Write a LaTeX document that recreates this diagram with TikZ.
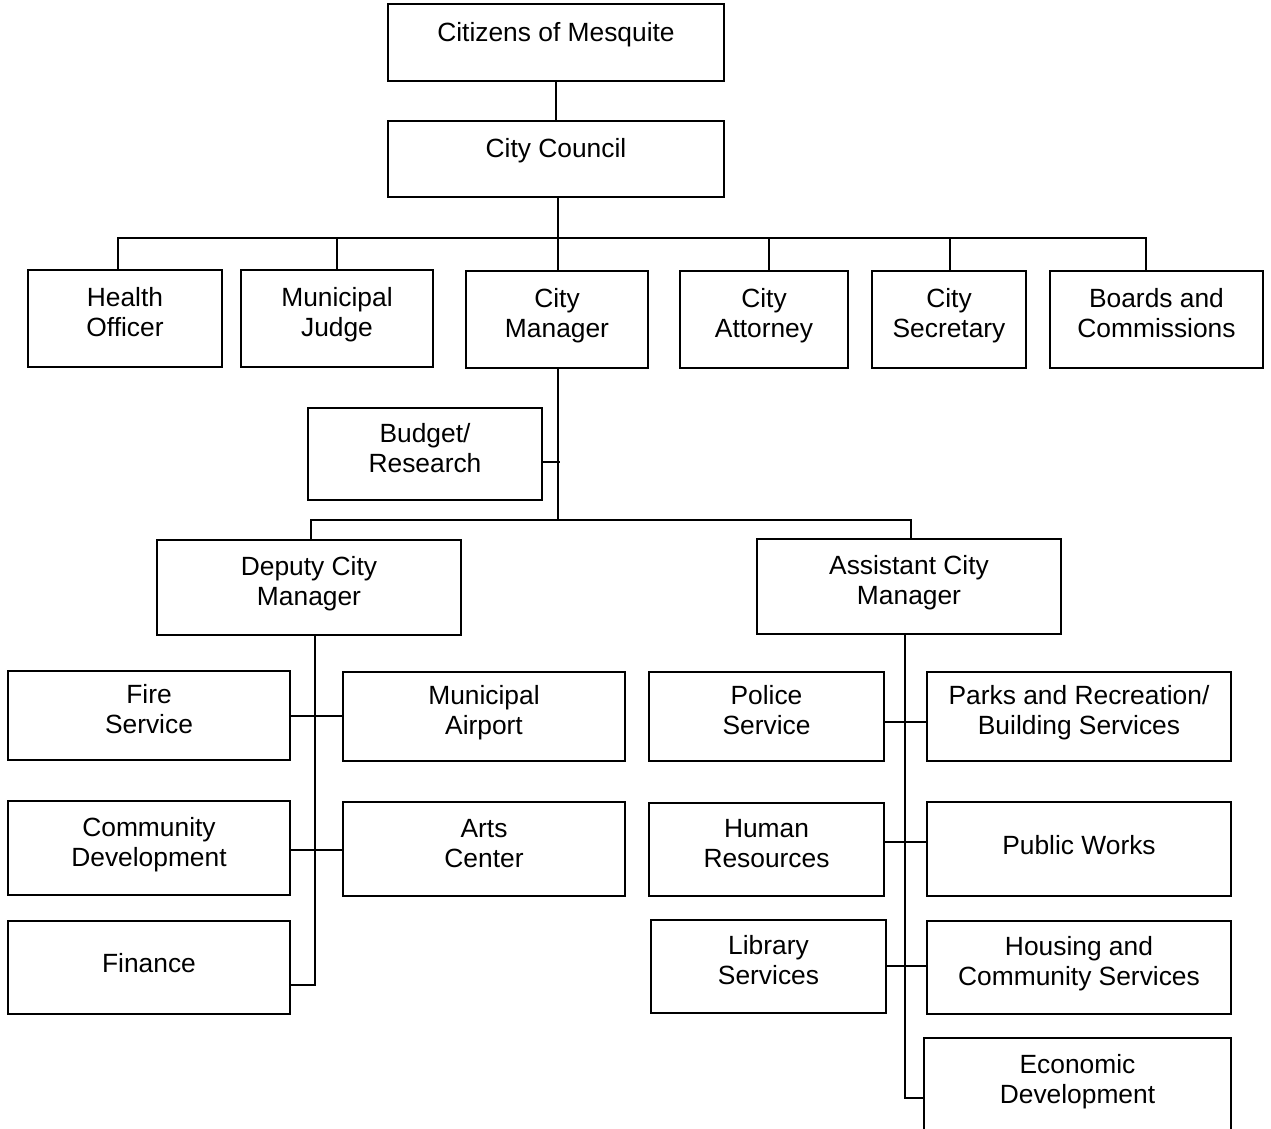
\documentclass[tikz,border=0pt]{standalone}
\usepackage{fontspec}
\setmainfont{Liberation Sans}
\begin{document}
\begin{tikzpicture}[
  unit box/.style={draw, line width=1pt, align=center, inner sep=0pt,
    font=\fontsize{15}{17}\selectfont, text height=25pt, text depth=4.4pt},
  one line/.style={text height=10pt, text depth=4.3pt},
  top box/.style={unit box, minimum width=6.72cm, text height=0.5cm, text depth=0.56cm},
  wire/.style={line width=1pt}
]
\useasboundingbox (0,0) rectangle (25.42,-22.56);

% top of the chart
\node[top box, minimum height=1.54cm] (citizens) at (11.12,-0.85) {Citizens of Mesquite};
\node[top box, minimum height=1.52cm] (council) at (11.12,-3.18) {City Council};

% offices under the council
\node[unit box, minimum width=3.88cm, minimum height=1.94cm] (health) at (2.50,-6.37) {Health\\Officer};
\node[unit box, minimum width=3.84cm, minimum height=1.94cm] (judge) at (6.74,-6.37) {Municipal\\Judge};
\node[unit box, minimum width=3.64cm, minimum height=1.94cm] (manager) at (11.14,-6.39) {City\\Manager};
\node[unit box, minimum width=3.36cm, minimum height=1.94cm] (attorney) at (15.28,-6.39) {City\\Attorney};
\node[unit box, minimum width=3.08cm, minimum height=1.94cm] (secretary) at (18.98,-6.39) {City\\Secretary};
\node[unit box, minimum width=4.26cm, minimum height=1.94cm] (boards) at (23.13,-6.39) {Boards and\\Commissions};

\node[unit box, minimum width=4.68cm, minimum height=1.84cm] (budget) at (8.50,-9.08) {Budget/\\Research};

\node[unit box, minimum width=6.08cm, minimum height=1.90cm] (deputy) at (6.18,-11.75) {Deputy City\\Manager};
\node[unit box, minimum width=6.08cm, minimum height=1.90cm] (assistant) at (18.18,-11.73) {Assistant City\\Manager};

% deputy city manager side
\node[unit box, minimum width=5.64cm, minimum height=1.78cm] (fire) at (2.98,-14.31) {Fire\\Service};
\node[unit box, minimum width=5.64cm, minimum height=1.78cm] (airport) at (9.68,-14.33) {Municipal\\Airport};
\node[unit box, minimum width=5.64cm, minimum height=1.88cm] (community) at (2.98,-16.96) {Community\\Development};
\node[unit box, minimum width=5.64cm, minimum height=1.88cm] (arts) at (9.68,-16.98) {Arts\\Center};
\node[unit box, one line, minimum width=5.64cm, minimum height=1.86cm] (finance) at (2.98,-19.35) {Finance};

% assistant city manager side
\node[unit box, minimum width=4.70cm, minimum height=1.78cm] (police) at (15.33,-14.33) {Police\\Service};
\node[unit box, minimum width=6.08cm, minimum height=1.78cm] (parks) at (21.58,-14.33) {Parks and Recreation/\\Building Services};
\node[unit box, minimum width=4.70cm, minimum height=1.86cm] (human) at (15.33,-16.99) {Human\\Resources};
\node[unit box, one line, minimum width=6.08cm, minimum height=1.88cm] (works) at (21.58,-16.98) {Public Works};
\node[unit box, minimum width=4.70cm, minimum height=1.86cm] (library) at (15.37,-19.33) {Library\\Services};
\node[unit box, minimum width=6.08cm, minimum height=1.86cm] (housing) at (21.58,-19.35) {Housing and\\Community Services};
\node[unit box, minimum width=6.14cm, minimum height=1.88cm] (econ) at (21.55,-21.70) {Economic\\Development};

% connectors
\coordinate (bus) at (11.16,-4.76);
\coordinate (split) at (11.16,-10.40);
\coordinate (dspine) at (6.30,-19.70);
\coordinate (aspine) at (18.10,-21.96);

\draw[wire] (citizens) -- (council);
\draw[wire] (council.south -| bus) -- (bus);
\draw[wire] ([xshift=-0.14cm]health.north) |- ([xshift=-0.21cm]boards.north |- bus) -- ([xshift=-0.21cm]boards.north);
\foreach \n/\dx in {judge/0,manager/0.02,attorney/0.1,secretary/0.02}
  \draw[wire] ([xshift=\dx cm]\n.north) -- ([xshift=\dx cm]\n.north |- bus);

\draw[wire] (manager.south -| split) -- (split);
\draw[wire] ([yshift=-0.16cm]budget.east) -- ([yshift=-0.16cm,xshift=0.04cm]budget.east -| split);
\draw[wire] (deputy.north -| 6.22,0) |- (split) -| (assistant.north -| 18.22,0);

\draw[wire] (deputy.south -| dspine) -- (dspine) -- (finance.east |- dspine);
\draw[wire] ([yshift=-0.01cm]fire.east) -- ([yshift=-0.01cm]fire.east -| airport.west);
\draw[wire] ([yshift=-0.04cm]community.east) -- ([yshift=-0.04cm]community.east -| arts.west);

\draw[wire] (assistant.south -| aspine) -- (aspine) -- (econ.west |- aspine);
\draw[wire] ([yshift=-0.11cm]police.east) -- ([yshift=-0.11cm]police.east -| parks.west);
\draw[wire] ([yshift=0.15cm]human.east) -- ([yshift=0.15cm]human.east -| works.west);
\draw[wire] ([yshift=0.01cm]library.east) -- ([yshift=0.01cm]library.east -| housing.west);

\end{tikzpicture}
\end{document}
